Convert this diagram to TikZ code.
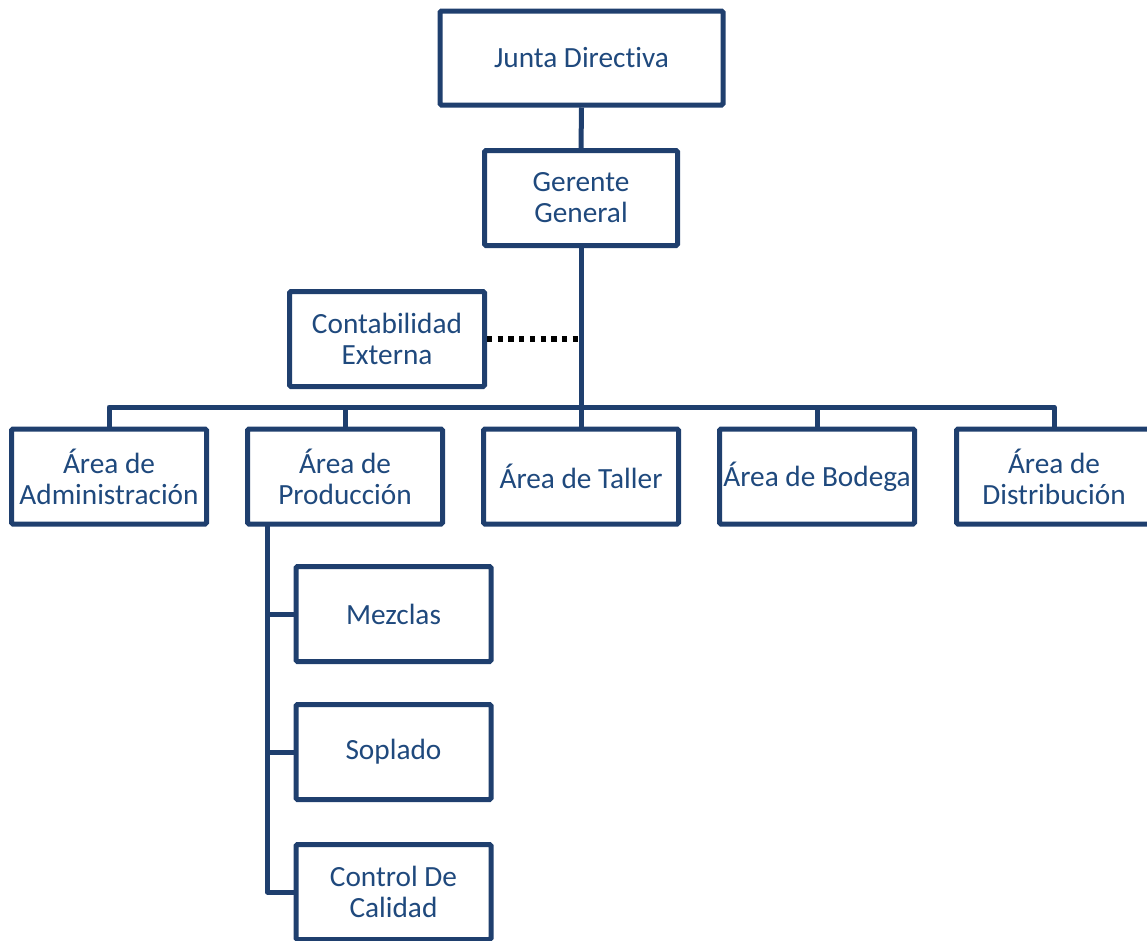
\documentclass[tikz,border=0pt]{standalone}
\usepackage{fontspec}
\setmainfont[Ligatures=NoCommon]{Carlito}
\definecolor{lineblue}{HTML}{1F3F6E}
\definecolor{textblue}{HTML}{1F497D}
\begin{document}
\begin{tikzpicture}[x=1pt,y=-1pt,
  box/.style={draw=lineblue, line width=5pt, rounded corners=1.5pt, fill=white,
    minimum width=195pt, minimum height=95pt, inner sep=0pt, align=center,
    text=textblue, font=\fontsize{29.3}{31}\selectfont},
  link/.style={draw=lineblue, line width=5pt},
  dotlink/.style={draw=black, line width=5.5pt, dash pattern=on 5.3pt off 5.4pt}]
\useasboundingbox (0,0) rectangle (1147,940);
\clip (0,0) rectangle (1147,940);
\node[box, minimum width=283pt, minimum height=94pt] (junta) at (581.5,58) {Junta Directiva};
\node[box, minimum width=193pt] (gerente) at (581,198) {Gerente\\General};
\node[box] (conta) at (387,339) {Contabilidad\\Externa};
\node[box] (admin) at (109,476.5) {Área de\\Administración};
\node[box] (prod) at (345,476.5) {Área de\\Producción};
\node[box] (taller) at (581,476.5) {Área de Taller};
\node[box] (bodega) at (817,476.5) {Área de Bodega};
\node[box] (dist) at (1054,476.5) {Área de\\Distribución};
\node[box] (mez) at (393.5,614) {Mezclas};
\node[box] (sop) at (393.5,752) {Soplado};
\node[box] (ctrl) at (393.5,892) {Control De\\Calidad};
\coordinate (busL) at (109,407);
\coordinate (busR) at (1054,407);
\coordinate (busM) at (581,407);
\coordinate (dotEnd) at (578,339);
\draw[link] (junta.south) -- (gerente.north);
\draw[link] (gerente.south) -- (busM) -- (taller.north);
\draw[link, line join=round] (admin.north) -- (busL) -- (busR) -- (dist.north);
\draw[link] (prod.north) -- (prod.north |- busL);
\draw[link] (bodega.north) -- (bodega.north |- busL);
\draw[dotlink] (conta.east) -- (dotEnd);
\coordinate (spine) at (267.5,523.5);
\draw[link, line join=round] (spine) -- (spine |- ctrl.west) -- (ctrl.west);
\draw[link] (spine |- mez.west) -- (mez.west);
\draw[link] (spine |- sop.west) -- (sop.west);
\end{tikzpicture}
\end{document}
